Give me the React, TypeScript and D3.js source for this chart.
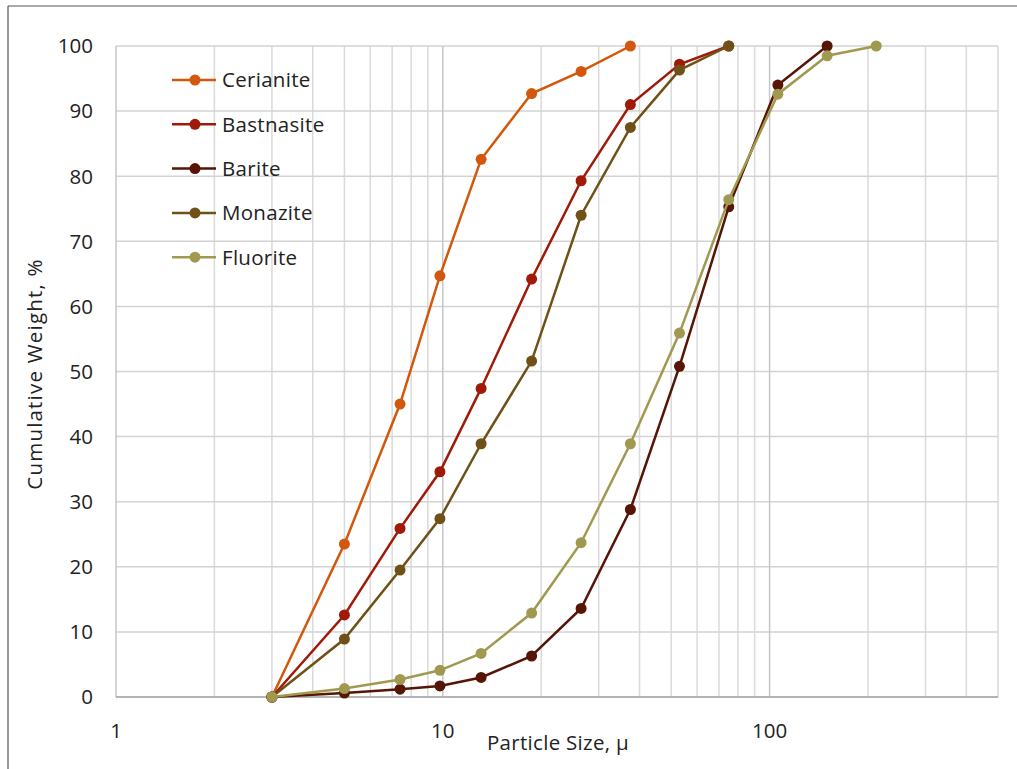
import React from "react";
import * as d3 from "d3";

const sizes = [3, 5, 7.4, 9.8, 13.1, 18.7, 26.5, 37.5, 53, 75, 106, 150, 212];

const seriesNames = ["Cerianite", "Bastnasite", "Barite", "Monazite", "Fluorite"];
const seriesColors = ["#D2580E", "#A01A08", "#561505", "#6F5118", "#A09A50"];

const cerianite = [0, 23.5, 45.0, 64.7, 82.6, 92.7, 96.1, 100];
const bastnasite = [0, 12.6, 25.9, 34.6, 47.4, 64.2, 79.3, 91.0, 97.2, 100];
const barite = [0, 0.6, 1.2, 1.7, 3.0, 6.3, 13.6, 28.8, 50.8, 75.3, 94.0, 100];
const monazite = [0, 8.9, 19.5, 27.4, 38.9, 51.6, 74.0, 87.5, 96.3, 100];
const fluorite = [0, 1.3, 2.7, 4.1, 6.7, 12.9, 23.7, 38.9, 55.9, 76.4, 92.6, 98.5, 100];

const seriesValues = [cerianite, bastnasite, barite, monazite, fluorite];

const yTicks = [0, 10, 20, 30, 40, 50, 60, 70, 80, 90, 100];
const xTickLabels = [1, 10, 100];
const minorX = [2, 3, 4, 5, 6, 7, 8, 9, 20, 30, 40, 50, 60, 70, 80, 90, 200, 300, 400];

const FONT = "'Open Sans', 'DejaVu Sans', sans-serif";

export default function App() {
  const W = 1017, H = 769;
  const left = 116, right = 998, top = 46, bottom = 697;
  const x = d3.scaleLog().domain([1, 500]).range([left, right]);
  const y = d3.scaleLinear().domain([0, 100]).range([bottom, top]);
  const line = d3.line<[number, number]>().x((d) => x(d[0])).y((d) => y(d[1]));

  const legendY0 = 80, legendStep = 44.3;

  return (
    <svg width={W} height={H} style={{ position: "absolute", left: 0, top: 0, background: "#fff" }}>
      <rect x={0} y={0} width={W} height={H} fill="#fff" />
      {/* outer border (left & top visible) */}
      <line x1={8} y1={6} x2={8} y2={H} stroke="#555" strokeWidth={1.2} />
      <line x1={8} y1={6} x2={W} y2={6} stroke="#555" strokeWidth={1.2} />

      {/* minor vertical grid */}
      {minorX.map((v) => (
        <line key={"mx" + v} x1={x(v)} x2={x(v)} y1={top} y2={bottom} stroke="#DADADA" strokeWidth={1.5} />
      ))}
      {/* horizontal grid */}
      {yTicks.map((v) => (
        <line key={"hy" + v} x1={left} x2={right} y1={y(v)} y2={y(v)} stroke="#D3D3D3" strokeWidth={1.5} />
      ))}
      {/* major vertical grid */}
      {xTickLabels.map((v) => (
        <line key={"Mx" + v} x1={x(v)} x2={x(v)} y1={top} y2={bottom} stroke="#C6C6C6" strokeWidth={1.5} />
      ))}
      <line x1={right} x2={right} y1={top} y2={bottom} stroke="#DADADA" strokeWidth={1.5} />
      {/* bottom axis */}
      <line x1={left} x2={right} y1={bottom} y2={bottom} stroke="#A6A6A6" strokeWidth={1.5} />

      {/* y tick labels */}
      {yTicks.map((v) => (
        <text key={"yt" + v} x={93} y={y(v)} dy="0.36em" textAnchor="end" fontFamily={FONT} fontSize={20.5} fill="#222">
          {v}
        </text>
      ))}
      {/* x tick labels */}
      {xTickLabels.map((v) => (
        <text key={"xt" + v} x={x(v)} y={738} textAnchor="middle" fontFamily={FONT} fontSize={20.5} fill="#222">
          {v}
        </text>
      ))}
      {/* axis titles */}
      <text x={558} y={750} textAnchor="middle" fontFamily={FONT} fontSize={20.5} letterSpacing={0.3} fill="#222">
        Particle Size, µ
      </text>
      <text
        transform={`translate(42, 374) rotate(-90)`}
        textAnchor="middle"
        fontFamily={FONT}
        fontSize={20.5}
        letterSpacing={1.2}
        fill="#222"
      >
        Cumulative Weight, %
      </text>

      {/* series */}
      {seriesNames.map((name, i) => {
        const pts: [number, number][] = seriesValues[i].map((v, j) => [sizes[j], v]);
        return (
          <g key={name}>
            <path d={line(pts) || ""} fill="none" stroke={seriesColors[i]} strokeWidth={2.5} />
            {pts.map((p, j) => (
              <circle key={j} cx={x(p[0])} cy={y(p[1])} r={5.5} fill={seriesColors[i]} />
            ))}
          </g>
        );
      })}

      {/* legend */}
      {seriesNames.map((name, i) => {
        const ly = legendY0 + i * legendStep;
        return (
          <g key={"lg" + name}>
            <line x1={172} x2={216} y1={ly} y2={ly} stroke={seriesColors[i]} strokeWidth={2.5} />
            <circle cx={195} cy={ly} r={5.5} fill={seriesColors[i]} />
            <text x={222} y={ly} dy="0.36em" fontFamily={FONT} fontSize={20.5} letterSpacing={0.3} fill="#222">
              {name}
            </text>
          </g>
        );
      })}
    </svg>
  );
}
